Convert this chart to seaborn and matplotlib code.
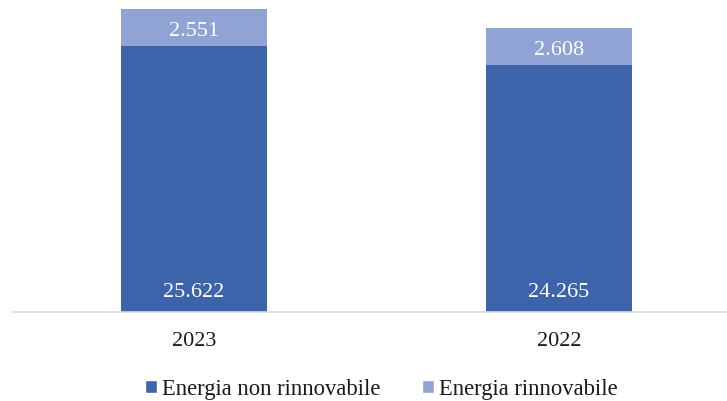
import matplotlib
matplotlib.use("Agg")
import matplotlib.pyplot as plt
import seaborn as sns
import pandas as pd
from matplotlib.patches import Patch

years = ["2023", "2022"]
non_renewable = [25622, 24265]
renewable = [2551, 2608]
series_names = ["Energia non rinnovabile", "Energia rinnovabile"]

def fmt(v):
    return f"{v:,}".replace(",", ".")

sns.set_theme(style="white")
plt.rcParams['font.family'] = ['Liberation Serif', 'DejaVu Serif']

dark = "#3D63AB"
light = "#8FA3D5"

df = pd.DataFrame({
    "year": years,
    "non": non_renewable,
    "ren": renewable,
})
df["total"] = df["non"] + df["ren"]

W, H = 727, 402
fig = plt.figure(figsize=(W / 100, H / 100), dpi=100)
ax = fig.add_axes([12 / W, (H - 313) / H, (W - 12) / W, 313 / H])

sns.barplot(data=df, x="year", y="total", color=light, width=0.4,
            saturation=1, ax=ax, linewidth=0)
sns.barplot(data=df, x="year", y="non", color=dark, width=0.4,
            saturation=1, ax=ax, linewidth=0)

ymin = 7000
ax.set_ylim(ymin, 28890)
ax.set_xlim(-0.4986, 1.46)
ax.set_xlabel("")
ax.set_ylabel("")
ax.set_yticks([])
for s in ["top", "right", "left"]:
    ax.spines[s].set_visible(False)
ax.spines["bottom"].set_color("#D9D9D9")
ax.spines["bottom"].set_linewidth(1.2)
ax.tick_params(axis="x", length=0, pad=14, labelsize=16, colors="#1a1a1a")

for i in range(len(years)):
    ax.text(i, ymin + 1120, fmt(non_renewable[i]), ha="center", va="baseline",
            color="white", fontsize=16)
    ax.text(i, non_renewable[i] + renewable[i] / 2 - 550, fmt(renewable[i]),
            ha="center", va="baseline", color="white", fontsize=16)

handles = [Patch(facecolor=dark, label=series_names[0]),
           Patch(facecolor=light, label=series_names[1])]
fig.legend(handles=handles, loc="center", bbox_to_anchor=(0.525, 0.03),
           ncol=2, frameon=False, fontsize=16.3, handlelength=0.5,
           handleheight=0.5, handletextpad=0.25, columnspacing=1.85,
           labelcolor="#1a1a1a")

fig.savefig("out.png", dpi=100)
